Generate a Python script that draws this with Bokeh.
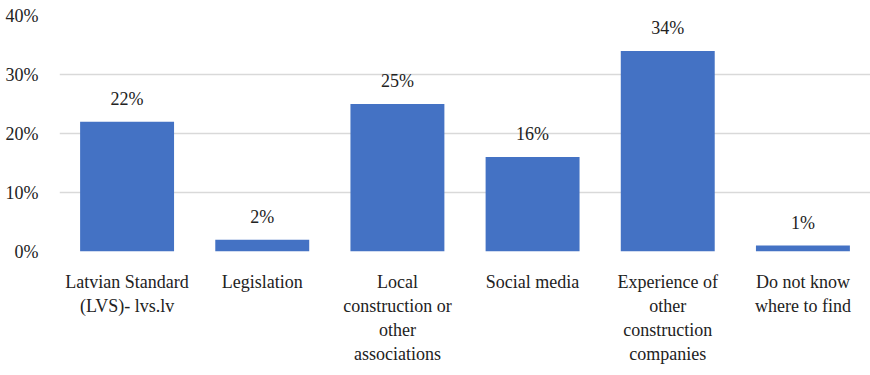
from bokeh.plotting import figure
from bokeh.models import ColumnDataSource, Range1d, FactorRange, FixedTicker, NumeralTickFormatter, LabelSet
from bokeh.embed import file_html
from bokeh.resources import INLINE

categories = ["Latvian Standard\n(LVS)- lvs.lv", "Legislation", "Local\nconstruction or\nother\nassociations",
              "Social media", "Experience of\nother\nconstruction\ncompanies", "Do not know\nwhere to find"]
values = [0.22, 0.02, 0.25, 0.16, 0.34, 0.01]
labels = ["22%", "2%", "25%", "16%", "34%", "1%"]
y_ticks = [0, 0.1, 0.2, 0.3, 0.4]

FONT = "Liberation Serif"

src = ColumnDataSource(dict(cat=categories, val=values, lab=labels))

p = figure(x_range=FactorRange(*categories), y_range=Range1d(0, 0.4),
           width=870, height=367, output_backend="svg", toolbar_location=None,
           min_border_left=59, min_border_right=0, min_border_top=15, min_border_bottom=116)
p.outline_line_color = None

p.vbar(x="cat", top="val", width=0.695, bottom=0, source=src, fill_color="#4472C4", line_color=None)

p.add_layout(LabelSet(x="cat", y="val", text="lab", source=src, text_align="center",
                      text_baseline="bottom", y_offset=13, text_font=FONT, text_font_size="18px",
                      text_color="#222222"))

p.yaxis.ticker = FixedTicker(ticks=y_ticks)
p.yaxis.formatter = NumeralTickFormatter(format="0%")
p.yaxis.axis_line_color = None
p.yaxis.major_tick_line_color = None
p.yaxis.minor_tick_line_color = None
p.yaxis.major_label_text_font = FONT
p.yaxis.major_label_text_font_size = "18px"
p.yaxis.major_label_text_color = "#222222"
p.yaxis.major_label_standoff = 15

p.xaxis.axis_line_color = None
p.xaxis.major_tick_line_color = None
p.xaxis.major_label_text_font = FONT
p.xaxis.major_label_text_font_size = "18px"
p.xaxis.major_label_text_color = "#222222"
p.xaxis.major_label_standoff = 14

p.xgrid.grid_line_color = None
p.ygrid.grid_line_color = "#D9D9D9"
p.ygrid.grid_line_width = 1.5

open("out.html", "w").write(file_html(p, INLINE))
